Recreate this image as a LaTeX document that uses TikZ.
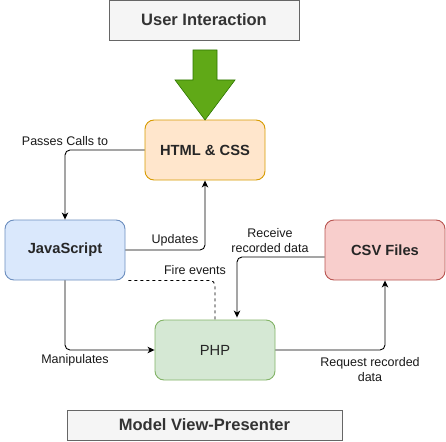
\documentclass[tikz,border=0pt]{standalone}
\usepackage{fontspec}
\setmainfont{Liberation Sans}
\usetikzlibrary{arrows.meta,calc}
\definecolor{grayfill}{HTML}{F5F5F5}
\definecolor{grayline}{HTML}{666666}
\definecolor{txtgray}{HTML}{333333}
\definecolor{orfill}{HTML}{FFE6CC}
\definecolor{orline}{HTML}{D79B00}
\definecolor{blfill}{HTML}{DAE8FC}
\definecolor{blline}{HTML}{6C8EBF}
\definecolor{rdfill}{HTML}{F8CECC}
\definecolor{rdline}{HTML}{B85450}
\definecolor{gnfill}{HTML}{D5E8D4}
\definecolor{gnline}{HTML}{82B366}
\definecolor{arrowfill}{HTML}{60A917}
\definecolor{arrowline}{HTML}{2D7600}
\tikzset{
  titlebox/.style={draw=grayline, fill=grayfill, line width=0.9pt, text=txtgray,
    font=\fontsize{16.5}{19}\selectfont\bfseries, inner sep=0pt},
  compbox/.style={rectangle, rounded corners=9pt, line width=0.9pt, minimum width=120pt,
    minimum height=60pt, inner sep=0pt, font=\fontsize{14.7}{17}\selectfont\bfseries, text=black!85},
  conn/.style={draw=black, line width=0.9pt, rounded corners=5pt,
    -{Stealth[length=7pt,width=6.5pt,inset=2pt]}},
  elabel/.style={font=\fontsize{12.5}{15}\selectfont, text=black!90, align=center, inner sep=0pt}
}
\begin{document}
\begin{tikzpicture}
\useasboundingbox (0pt,0pt) rectangle (446pt,-441pt);

\node[titlebox, minimum width=190pt, minimum height=40pt] (ui) at (204pt,-20pt) {User Interaction};
\node[titlebox, minimum width=275pt, minimum height=30pt] (mvp) at (204.5pt,-425pt) {Model View-Presenter};

\node[compbox, draw=orline, fill=orfill] (html) at (205pt,-150pt) {HTML \& CSS};
\node[compbox, draw=blline, fill=blfill] (js) at (65pt,-250pt) {JavaScript};
\node[compbox, draw=rdline, fill=rdfill] (csv) at (385pt,-250pt) {CSV Files};
\node[compbox, draw=gnline, fill=gnfill, font=\fontsize{14.7}{17}\selectfont] (php) at (215pt,-350pt) {PHP};

% big green arrow
\draw[fill=arrowfill, draw=arrowline, line width=0.6pt]
  (193pt,-50pt) -- (217pt,-50pt) -- (217pt,-80pt) -- (235pt,-80pt) -- (205pt,-120pt) -- (175pt,-80pt) -- (193pt,-80pt) -- cycle;

% connectors
\draw[conn] (html.west) -| (js.north);
\draw[conn] (js.east) -| (html.south);
\draw[conn] (js.south) |- (php.west);
\draw[line width=0.9pt, dashed, rounded corners=5pt] ($(js.south east)+(3pt,0pt)$) -| (php.north);
\coordinate (csvout) at ($(csv.west)+(0pt,-7pt)$);
\coordinate (phpin) at ($(php.north)+(22pt,2pt)$);
\draw[conn] (csvout) -| (phpin);
\draw[conn] (php.east) -| (csv.south);

% labels
\node[elabel] (l1) at (65pt,-141pt) {Passes Calls to};
\node[elabel] (l2) at (175pt,-240pt) {Updates};
\node[elabel] (l3) at (195pt,-270pt) {Fire events};
\node[elabel] (l4) at (270pt,-241pt) {Receive\\recorded data};
\node[elabel] (l5) at (75pt,-360pt) {Manipulates};
\node[elabel] (l6) at (370pt,-370pt) {Request recorded\\data};
\end{tikzpicture}
\end{document}
